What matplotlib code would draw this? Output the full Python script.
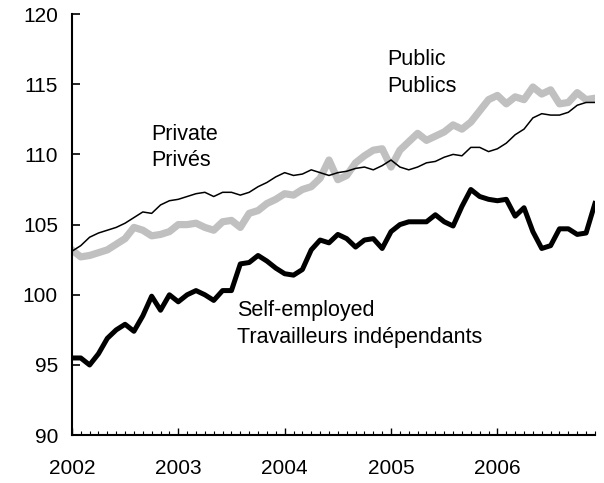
#! /usr/bin/python3

# wage index by sector, monthly 2002-2006
import numpy as np
import matplotlib
matplotlib.use('Agg')
import matplotlib.pyplot as plt
from matplotlib.ticker import MultipleLocator

plt.rcParams['font.family'] = ['Liberation Sans', 'DejaVu Sans']

years = ['2002', '2003', '2004', '2005', '2006']
months = np.arange(60)

public = [103.2, 102.7, 102.8, 103.0, 103.2, 103.6, 104.0, 104.8, 104.6, 104.2,
          104.3, 104.5, 105.0, 105.0, 105.1, 104.8, 104.6, 105.2, 105.3, 104.8,
          105.8, 106.0, 106.5, 106.8, 107.2, 107.1, 107.5, 107.7, 108.3, 109.6,
          108.2, 108.5, 109.4, 109.9, 110.3, 110.4, 109.1, 110.3, 110.9, 111.5,
          111.0, 111.3, 111.6, 112.1, 111.8, 112.3, 113.1, 113.9, 114.2, 113.6,
          114.1, 113.9, 114.8, 114.3, 114.6, 113.6, 113.7, 114.4, 113.9, 114.0]

private = [103.1, 103.5, 104.1, 104.4, 104.6, 104.8, 105.1, 105.5, 105.9, 105.8,
           106.4, 106.7, 106.8, 107.0, 107.2, 107.3, 107.0, 107.3, 107.3, 107.1,
           107.3, 107.7, 108.0, 108.4, 108.7, 108.5, 108.6, 108.9, 108.7, 108.5,
           108.7, 108.8, 109.0, 109.1, 108.9, 109.2, 109.6, 109.1, 108.9, 109.1,
           109.4, 109.5, 109.8, 110.0, 109.9, 110.5, 110.5, 110.2, 110.4, 110.8,
           111.4, 111.8, 112.6, 112.9, 112.8, 112.8, 113.0, 113.5, 113.7, 113.7]

self_employed = [95.5, 95.5, 95.0, 95.8, 96.9, 97.5, 97.9, 97.4, 98.5, 99.9,
                 98.9, 100.0, 99.5, 100.0, 100.3, 100.0, 99.6, 100.3, 100.3, 102.2,
                 102.3, 102.8, 102.4, 101.9, 101.5, 101.4, 101.8, 103.2, 103.9, 103.7,
                 104.3, 104.0, 103.4, 103.9, 104.0, 103.3, 104.5, 105.0, 105.2, 105.2,
                 105.2, 105.7, 105.2, 104.9, 106.3, 107.5, 107.0, 106.8, 106.7, 106.8,
                 105.6, 106.2, 104.5, 103.3, 103.5, 104.7, 104.7, 104.3, 104.4, 106.5]

fig = plt.figure(figsize=(6.04, 4.83), dpi=100)
ax = fig.add_axes([0.119, 0.099, 0.866, 0.872])

ax.plot(months, public, color='#c0c0c0', lw=5.2, solid_joinstyle='round')
ax.plot(months, self_employed, color='black', lw=3.6, solid_joinstyle='round')
ax.plot(months, private, color='black', lw=1.1)

ax.set_xlim(0, 59)
ax.set_ylim(90, 120)
ax.set_yticks(range(90, 121, 5))
ax.set_xticks(range(0, 60, 12))
ax.set_xticklabels(years)
ax.xaxis.set_minor_locator(MultipleLocator(1))

for s in ['top', 'right']:
    ax.spines[s].set_visible(False)
for s in ['left', 'bottom']:
    ax.spines[s].set_linewidth(1.5)

ax.tick_params(axis='y', direction='in', length=6, width=1.2, pad=10, labelsize=15)
ax.tick_params(axis='x', which='major', direction='in', length=5, width=1.0, pad=17, labelsize=15)
ax.tick_params(axis='x', which='minor', direction='in', length=3, width=0.8)

ax.text(9.0, 112.2, 'Private\nPrivés', fontsize=15.5, va='top', linespacing=1.35)
ax.text(35.6, 117.5, 'Public\nPublics', fontsize=15.5, va='top', linespacing=1.35)
ax.text(18.6, 99.6, 'Self-employed\nTravailleurs indépendants', fontsize=15.5, va='top', linespacing=1.35)

fig.savefig('out.png', dpi=100)
